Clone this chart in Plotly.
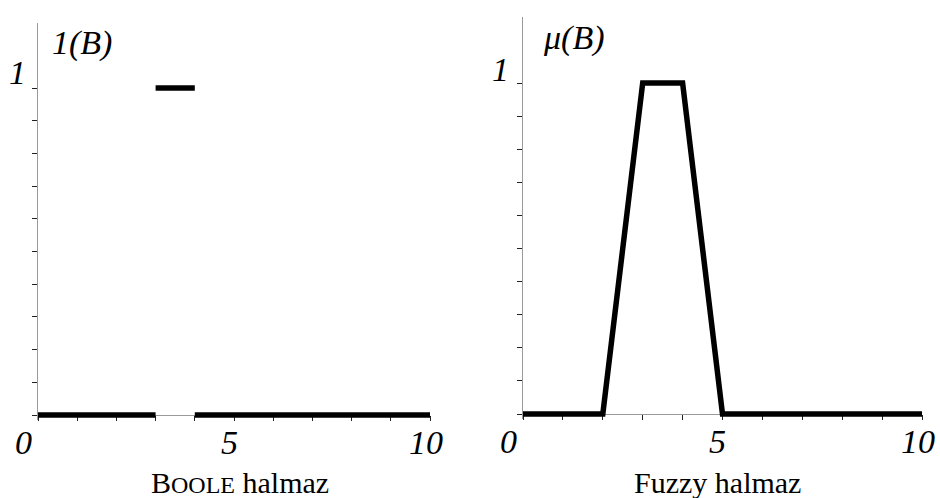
import plotly.graph_objects as go

# ---- data ----
boole_x_start = [0, 3, 4]
boole_x_end = [3, 4, 10]
boole_y = [0, 1, 0]

fuzzy_x = [0, 2, 3, 4, 5, 10]
fuzzy_y = [0, 0, 1, 1, 0, 0]

x_ticks = list(range(0, 11))
y_ticks = [round(0.1 * i, 1) for i in range(0, 11)]
x_label_vals = [0, 5, 10]
x_label_text = ["0", "5", "10"]
x_label_shift = [-15, -5, -4]
y_label_vals = [1]
y_label_text = ["1"]
axis_titles = ["1(B)", "μ(B)"]
captions = ["B<span style='font-size:24px'>OOLE</span> halmaz", "Fuzzy halmaz"]

W, H = 940, 498
FONT = "Liberation Serif"

# build Boole segments with gaps
bx, by = [], []
for x0, x1, yv in zip(boole_x_start, boole_x_end, boole_y):
    bx += [x0, x1, None]
    by += [yv, yv, None]

fig = go.Figure()
fig.add_trace(go.Scatter(x=bx, y=by, mode="lines", xaxis="x", yaxis="y",
                         line=dict(color="black", width=5.5), showlegend=False,
                         hoverinfo="skip"))
fig.add_trace(go.Scatter(x=fuzzy_x, y=fuzzy_y, mode="lines", xaxis="x2", yaxis="y2",
                         line=dict(color="black", width=5.5), showlegend=False,
                         hoverinfo="skip"))

ymin = -0.015
# pixel geometry
left = dict(x0=38, x1=430, y0px=415, unit=327)
right = dict(x0=523, x1=922, y0px=414, unit=331)


def axes(g):
    bottom = g["y0px"] - ymin * g["unit"]
    top = g["y0px"] - 1.2 * g["unit"]
    ydom = [(H - bottom) / H, (H - top) / H]
    xdom = [g["x0"] / W, g["x1"] / W]
    pos = (H - g["y0px"]) / H
    return xdom, ydom, pos


axis_common = dict(showgrid=False, zeroline=False, showline=True, linecolor="#9a9a9a",
                   linewidth=1, ticks="outside", ticklen=5, tickcolor="#222",
                   tickwidth=1, showticklabels=False, layer="below traces")

xd1, yd1, p1 = axes(left)
xd2, yd2, p2 = axes(right)

fig.update_layout(
    width=W, height=H, margin=dict(l=0, r=0, t=0, b=0),
    paper_bgcolor="white", plot_bgcolor="white",
    xaxis=dict(domain=xd1, range=[0, 10], tickvals=x_ticks, anchor="free", position=p1,
               **axis_common),
    yaxis=dict(domain=yd1, range=[ymin, 1.2], tickvals=y_ticks, anchor="x", **axis_common),
    xaxis2=dict(domain=xd2, range=[0, 10], tickvals=x_ticks, anchor="free", position=p2,
                **axis_common),
    yaxis2=dict(domain=yd2, range=[ymin, 1.2], tickvals=y_ticks, anchor="x2", **axis_common),
)

ann = []
tick_font = dict(family=FONT, size=34, color="black", style="italic")
for xr, yr in (("x", "y"), ("x2", "y2")):
    for v, t, s in zip(x_label_vals, x_label_text, x_label_shift):
        ann.append(dict(x=v, y=0, xref=xr, yref=yr, text=t, showarrow=False,
                        xanchor="center", yanchor="middle", xshift=s, yshift=-27,
                        font=tick_font))
for xr, yr, xs, ys in (("x", "y", -21, 16), ("x2", "y2", -23, 14)):
    for v, t in zip(y_label_vals, y_label_text):
        ann.append(dict(x=0, y=v, xref=xr, yref=yr, text=t, showarrow=False,
                        xanchor="center", yanchor="middle", xshift=xs, yshift=ys,
                        font=tick_font))
for (xr, yr, xs, ys), t in zip((("x", "y", 44, -20), ("x2", "y2", 50, -21)), axis_titles):
    ann.append(dict(x=0, y=1.2, xref=xr, yref=yr, text=t, showarrow=False,
                    xanchor="center", yanchor="middle", xshift=xs, yshift=ys,
                    font=tick_font))
for cx, t in zip((240, 717), captions):
    ann.append(dict(x=cx / W, y=(H - 482) / H, xref="paper", yref="paper", text=t,
                    showarrow=False, xanchor="center", yanchor="middle",
                    font=dict(family=FONT, size=30, color="black")))

fig.update_layout(annotations=ann)
fig.write_html("out.html", config={"displayModeBar": False},
               post_script="document.body.style.margin='0';document.body.style.overflow='hidden';")
